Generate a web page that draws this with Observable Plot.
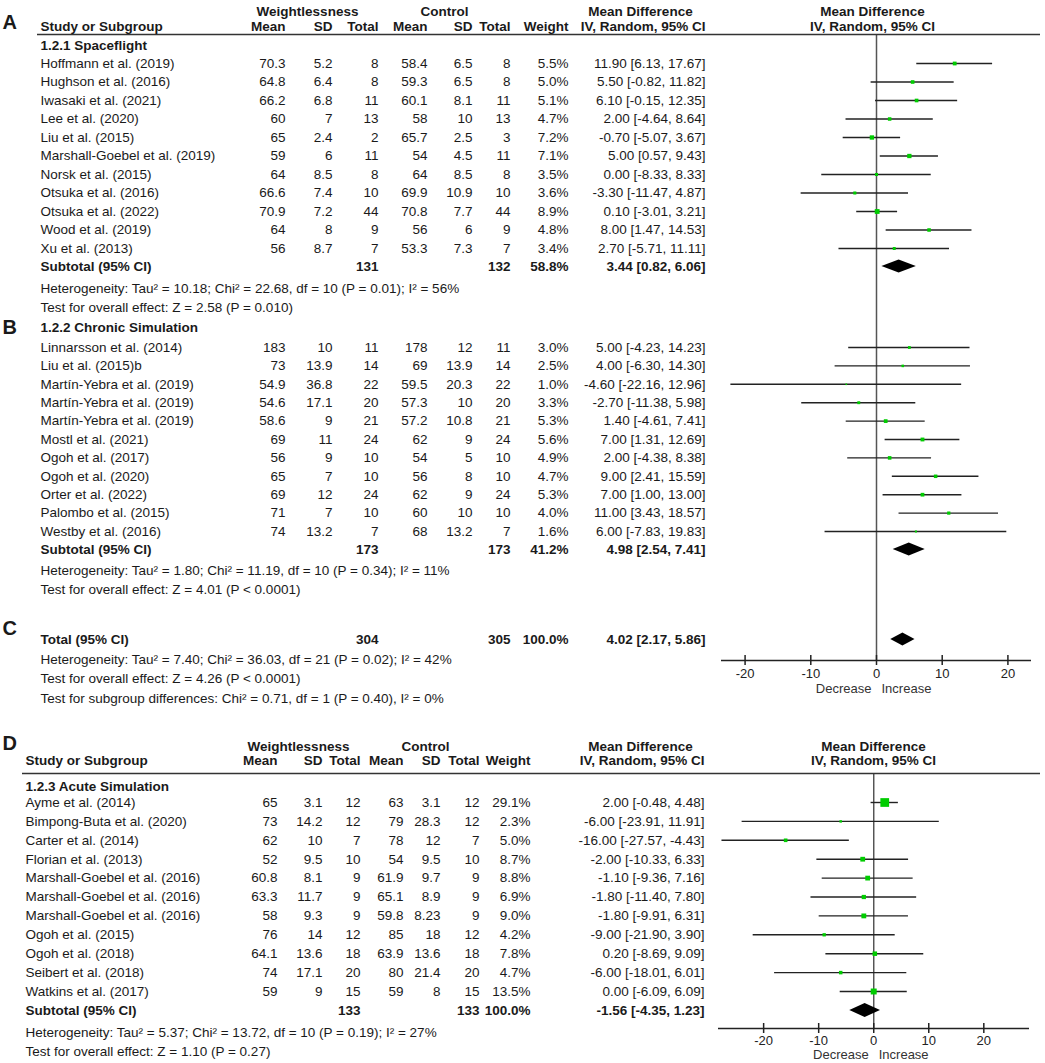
<!DOCTYPE html>
<html>
<head>
<meta charset="utf-8">
<script src="https://cdn.jsdelivr.net/npm/d3@7"></script>
<script src="https://cdn.jsdelivr.net/npm/@observablehq/plot@0.6"></script>
<style>
  body { margin: 0; background: #fff; }
  #wrap { position: relative; width: 1045px; height: 1063px; overflow: hidden; }
  #wrap svg { position: absolute; left: 0; top: 0; }
</style>
</head>
<body>
<div id="wrap"></div>
<script>
// ---------------- DATA ----------------
// [study, wMean, wSD, wTotal, cMean, cSD, cTotal, weight%, MD, lower, upper]
const spaceflight = [
  ["Hoffmann et al. (2019)", 70.3, 5.2, 8, 58.4, 6.5, 8, 5.5, 11.90, 6.13, 17.67],
  ["Hughson et al. (2016)", 64.8, 6.4, 8, 59.3, 6.5, 8, 5.0, 5.50, -0.82, 11.82],
  ["Iwasaki et al. (2021)", 66.2, 6.8, 11, 60.1, 8.1, 11, 5.1, 6.10, -0.15, 12.35],
  ["Lee et al. (2020)", 60, 7, 13, 58, 10, 13, 4.7, 2.00, -4.64, 8.64],
  ["Liu et al. (2015)", 65, 2.4, 2, 65.7, 2.5, 3, 7.2, -0.70, -5.07, 3.67],
  ["Marshall-Goebel et al. (2019)", 59, 6, 11, 54, 4.5, 11, 7.1, 5.00, 0.57, 9.43],
  ["Norsk et al. (2015)", 64, 8.5, 8, 64, 8.5, 8, 3.5, 0.00, -8.33, 8.33],
  ["Otsuka et al. (2016)", 66.6, 7.4, 10, 69.9, 10.9, 10, 3.6, -3.30, -11.47, 4.87],
  ["Otsuka et al. (2022)", 70.9, 7.2, 44, 70.8, 7.7, 44, 8.9, 0.10, -3.01, 3.21],
  ["Wood et al. (2019)", 64, 8, 9, 56, 6, 9, 4.8, 8.00, 1.47, 14.53],
  ["Xu et al. (2013)", 56, 8.7, 7, 53.3, 7.3, 7, 3.4, 2.70, -5.71, 11.11]
];
const chronic = [
  ["Linnarsson et al. (2014)", 183, 10, 11, 178, 12, 11, 3.0, 5.00, -4.23, 14.23],
  ["Liu et al. (2015)b", 73, 13.9, 14, 69, 13.9, 14, 2.5, 4.00, -6.30, 14.30],
  ["Martín-Yebra et al. (2019)", 54.9, 36.8, 22, 59.5, 20.3, 22, 1.0, -4.60, -22.16, 12.96],
  ["Martín-Yebra et al. (2019)", 54.6, 17.1, 20, 57.3, 10, 20, 3.3, -2.70, -11.38, 5.98],
  ["Martín-Yebra et al. (2019)", 58.6, 9, 21, 57.2, 10.8, 21, 5.3, 1.40, -4.61, 7.41],
  ["Mostl et al. (2021)", 69, 11, 24, 62, 9, 24, 5.6, 7.00, 1.31, 12.69],
  ["Ogoh et al. (2017)", 56, 9, 10, 54, 5, 10, 4.9, 2.00, -4.38, 8.38],
  ["Ogoh et al. (2020)", 65, 7, 10, 56, 8, 10, 4.7, 9.00, 2.41, 15.59],
  ["Orter et al. (2022)", 69, 12, 24, 62, 9, 24, 5.3, 7.00, 1.00, 13.00],
  ["Palombo et al. (2015)", 71, 7, 10, 60, 10, 10, 4.0, 11.00, 3.43, 18.57],
  ["Westby et al. (2016)", 74, 13.2, 7, 68, 13.2, 7, 1.6, 6.00, -7.83, 19.83]
];
const acute = [
  ["Ayme et al. (2014)", 65, 3.1, 12, 63, 3.1, 12, 29.1, 2.00, -0.48, 4.48],
  ["Bimpong-Buta et al. (2020)", 73, 14.2, 12, 79, 28.3, 12, 2.3, -6.00, -23.91, 11.91],
  ["Carter et al. (2014)", 62, 10, 7, 78, 12, 7, 5.0, -16.00, -27.57, -4.43],
  ["Florian et al. (2013)", 52, 9.5, 10, 54, 9.5, 10, 8.7, -2.00, -10.33, 6.33],
  ["Marshall-Goebel et al. (2016)", 60.8, 8.1, 9, 61.9, 9.7, 9, 8.8, -1.10, -9.36, 7.16],
  ["Marshall-Goebel et al. (2016)", 63.3, 11.7, 9, 65.1, 8.9, 9, 6.9, -1.80, -11.40, 7.80],
  ["Marshall-Goebel et al. (2016)", 58, 9.3, 9, 59.8, 8.23, 9, 9.0, -1.80, -9.91, 6.31],
  ["Ogoh et al. (2015)", 76, 14, 12, 85, 18, 12, 4.2, -9.00, -21.90, 3.90],
  ["Ogoh et al. (2018)", 64.1, 13.6, 18, 63.9, 13.6, 18, 7.8, 0.20, -8.69, 9.09],
  ["Seibert et al. (2018)", 74, 17.1, 20, 80, 21.4, 20, 4.7, -6.00, -18.01, 6.01],
  ["Watkins et al. (2017)", 59, 9, 15, 59, 8, 15, 13.5, 0.00, -6.09, 6.09]
];
// [wTotal, cTotal, weight%, MD, lower, upper]
const spaceflightSummary = [131, 132, 58.8, 3.44, 0.82, 6.06];
const chronicSummary = [173, 173, 41.2, 4.98, 2.54, 7.41];
const overallSummary = [304, 305, 100.0, 4.02, 2.17, 5.86];
const acuteSummary = [133, 133, 100.0, -1.56, -4.35, 1.23];

const subgroupTitles = ["1.2.1 Spaceflight", "1.2.2 Chronic Simulation", "1.2.3 Acute Simulation"];
const spaceflightStats = ["Heterogeneity: Tau² = 10.18; Chi² = 22.68, df = 10 (P = 0.01); I² = 56%",
                          "Test for overall effect: Z = 2.58 (P = 0.010)"];
const chronicStats = ["Heterogeneity: Tau² = 1.80; Chi² = 11.19, df = 10 (P = 0.34); I² = 11%",
                      "Test for overall effect: Z = 4.01 (P < 0.0001)"];
const overallStats = ["Heterogeneity: Tau² = 7.40; Chi² = 36.03, df = 21 (P = 0.02); I² = 42%",
                      "Test for overall effect: Z = 4.26 (P < 0.0001)",
                      "Test for subgroup differences: Chi² = 0.71, df = 1 (P = 0.40), I² = 0%"];
const acuteStats = ["Heterogeneity: Tau² = 5.37; Chi² = 13.72, df = 10 (P = 0.19); I² = 27%",
                    "Test for overall effect: Z = 1.10 (P = 0.27)"];
const panelLabels = ["A", "B", "C", "D"];
const axisTicks = [-20, -10, 0, 10, 20];
const axisWords = ["Decrease", "Increase"];

// ---------------- LAYOUT (pixels) ----------------
const FONT = "'Liberation Sans', Arial, Helvetica, sans-serif";
const INK = "#1a1a1a";
const FS = 13.5;
const topCols = {name: 40, wMean: 285, wSD: 332, wN: 378, cMean: 427, cSD: 472, cN: 510, weight: 568, ci: 705,
                 grpW: 307, grpC: 444, mdHead: 640, forestHead: 872, ruleX1: 37};
const botCols = {name: 25, wMean: 277, wSD: 322, wN: 360, cMean: 403, cSD: 440, cN: 479, weight: 530, ci: 704,
                 grpW: 298, grpC: 425, mdHead: 640, forestHead: 873, ruleX1: 22};
const L = {
  topHdr1: 11, topHdr2: 26, topRule: 34, title1: 45, rows1: 63, step1: 18.5, sub1: 266, stats1: 288, statStep: 19.5,
  title2: 327, rows2: 347, step2: 18.4, sub2: 549, stats2: 570,
  total: 639, statsT: 659, topAxis: 660, topZeroTop: 35, topTickDy: 13, topWordsDy: 28,
  botHdr1: 746, botHdr2: 760, botRule: 773, title3: 786, rows3: 802, step3: 18.9, sub3: 1010, stats3: 1032,
  botAxis: 1028, botZeroTop: 774, botTickDy: 12, botWordsDy: 26,
  labelY: [22, 327, 628, 743]
};

const fmtW = v => v.toFixed(1) + "%";
const fmtCI = (m, l, h) => `${m.toFixed(2)} [${l.toFixed(2)}, ${h.toFixed(2)}]`;

// ---------------- build records ----------------
const cells = [];
const cell = (x, y, text, anchor = "start", bold = false, size = FS) => cells.push({x, y, text: String(text), anchor, bold, size});
const topStudies = [], botStudies = [], topDiamonds = [], botDiamonds = [];

function headers(C, y1, y2) {
  cell(C.grpW, y1, "Weightlessness", "middle", true);
  cell(C.grpC, y1, "Control", "middle", true);
  cell(C.mdHead, y1, "Mean Difference", "middle", true);
  cell(C.forestHead, y1, "Mean Difference", "middle", true);
  cell(C.name, y2, "Study or Subgroup", "start", true);
  [["wMean", "Mean"], ["wSD", "SD"], ["wN", "Total"], ["cMean", "Mean"], ["cSD", "SD"], ["cN", "Total"],
   ["weight", "Weight"], ["ci", "IV, Random, 95% CI"]].forEach(([k, t]) => cell(C[k], y2, t, "end", true));
  cell(C.forestHead, y2, "IV, Random, 95% CI", "middle", true);
}
function studies(C, rows, y0, step, sink) {
  rows.forEach((r, i) => {
    const y = y0 + i * step;
    cell(C.name, y, r[0]);
    ["wMean", "wSD", "wN", "cMean", "cSD", "cN"].forEach((k, j) => cell(C[k], y, r[j + 1], "end"));
    cell(C.weight, y, fmtW(r[7]), "end");
    cell(C.ci, y, fmtCI(r[8], r[9], r[10]), "end");
    sink.push({y, weight: r[7], md: r[8], lo: r[9], hi: r[10]});
  });
}
function summary(C, label, s, y, sink, id) {
  cell(C.name, y, label, "start", true);
  cell(C.wN, y, s[0], "end", true);
  cell(C.cN, y, s[1], "end", true);
  cell(C.weight, y, fmtW(s[2]), "end", true);
  cell(C.ci, y, fmtCI(s[3], s[4], s[5]), "end", true);
  sink.push({id, y, md: s[3], lo: s[4], hi: s[5]});
}
function stats(C, lines, y0) { lines.forEach((t, i) => cell(C.name, y0 + i * L.statStep, t)); }

// Top panel (A, B, C)
headers(topCols, L.topHdr1, L.topHdr2);
cell(topCols.name, L.title1, subgroupTitles[0], "start", true);
studies(topCols, spaceflight, L.rows1, L.step1, topStudies);
summary(topCols, "Subtotal (95% CI)", spaceflightSummary, L.sub1, topDiamonds, "s1");
stats(topCols, spaceflightStats, L.stats1);
cell(topCols.name, L.title2, subgroupTitles[1], "start", true);
studies(topCols, chronic, L.rows2, L.step2, topStudies);
summary(topCols, "Subtotal (95% CI)", chronicSummary, L.sub2, topDiamonds, "s2");
stats(topCols, chronicStats, L.stats2);
summary(topCols, "Total (95% CI)", overallSummary, L.total, topDiamonds, "tot");
stats(topCols, overallStats, L.statsT);
// Bottom panel (D)
headers(botCols, L.botHdr1, L.botHdr2);
cell(botCols.name, L.title3, subgroupTitles[2], "start", true);
studies(botCols, acute, L.rows3, L.step3, botStudies);
summary(botCols, "Subtotal (95% CI)", acuteSummary, L.sub3, botDiamonds, "s3");
stats(botCols, acuteStats, L.stats3);
// Panel letters
panelLabels.forEach((t, i) => cell(2, L.labelY[i], t, "start", true, 20));

// ---------------- table plot ----------------
const groups = d3.groups(cells, d => `${d.anchor}|${d.bold}|${d.size}`);
const textMarks = groups.map(([k, g]) => Plot.text(g, {
  x: "x", y: "y", text: "text",
  textAnchor: g[0].anchor, fontWeight: g[0].bold ? "bold" : "normal", fontSize: g[0].size, fill: INK
}));
const tablePlot = Plot.plot({
  width: 1045, height: 1063, margin: 0,
  x: {type: "identity", axis: null}, y: {type: "identity", axis: null},
  style: {fontFamily: FONT, background: "transparent"},
  marks: [
    Plot.ruleY([L.topRule], {x1: topCols.ruleX1, x2: 1040, stroke: "#333", strokeWidth: 1.5}),
    Plot.ruleY([L.botRule], {x1: botCols.ruleX1, x2: 1040, stroke: "#333", strokeWidth: 1.5}),
    ...textMarks
  ]
});

// ---------------- forest plots ----------------
function forest({domain, marginLeft, marginRight, zeroTop, axisY, tickDy, wordsDy, studiesData, diamonds, halfH}) {
  const pts = diamonds.flatMap(d => [
    {id: d.id, x: d.lo, y1: d.y, y2: d.y},
    {id: d.id, x: d.md, y1: d.y - halfH, y2: d.y + halfH},
    {id: d.id, x: d.hi, y1: d.y, y2: d.y}
  ]);
  return Plot.plot({
    width: 1045, height: 1063, marginLeft, marginRight, marginTop: 0, marginBottom: 0,
    x: {domain, axis: null},
    y: {type: "identity", axis: null},
    r: {type: "sqrt", domain: [0, 30], range: [0, 5]},
    style: {fontFamily: FONT, background: "transparent"},
    marks: [
      Plot.ruleX([0], {y1: zeroTop, y2: axisY, stroke: "#555", strokeWidth: 1.5}),
      Plot.ruleY(studiesData, {y: "y", x1: "lo", x2: "hi", stroke: "#222", strokeWidth: 1.4}),
      Plot.dot(studiesData, {x: "md", y: "y", r: "weight", symbol: "square", fill: "#00cc00", stroke: "none"}),
      Plot.areaY(pts, {x: "x", y1: "y1", y2: "y2", z: "id", fill: "#000"}),
      Plot.ruleY([axisY], {stroke: "#222", strokeWidth: 1.5}),
      Plot.ruleX(axisTicks, {x: d => d, y1: axisY - 5, y2: axisY + 5, stroke: "#222", strokeWidth: 1.5}),
      Plot.text(axisTicks, {x: d => d, y: axisY + tickDy, text: d => String(d), fontSize: 13, fill: "#222"}),
      Plot.text([axisWords[0]], {x: 0, y: axisY + wordsDy, text: d => d, dx: -5, textAnchor: "end", fontSize: 13, fill: "#333"}),
      Plot.text([axisWords[1]], {x: 0, y: axisY + wordsDy, text: d => d, dx: 5, textAnchor: "start", fontSize: 13, fill: "#333"})
    ]
  });
}
const topForest = forest({domain: [-23.59, 23.59], marginLeft: 721, marginRight: 14, zeroTop: L.topZeroTop,
  axisY: L.topAxis, tickDy: L.topTickDy, wordsDy: L.topWordsDy, studiesData: topStudies, diamonds: topDiamonds, halfH: 6.5});
const botForest = forest({domain: [-28.2, 28.3], marginLeft: 718, marginRight: 16, zeroTop: L.botZeroTop,
  axisY: L.botAxis, tickDy: L.botTickDy, wordsDy: L.botWordsDy, studiesData: botStudies, diamonds: botDiamonds, halfH: 7});

const wrap = document.getElementById("wrap");
wrap.append(topForest, botForest, tablePlot);
</script>
</body>
</html>
